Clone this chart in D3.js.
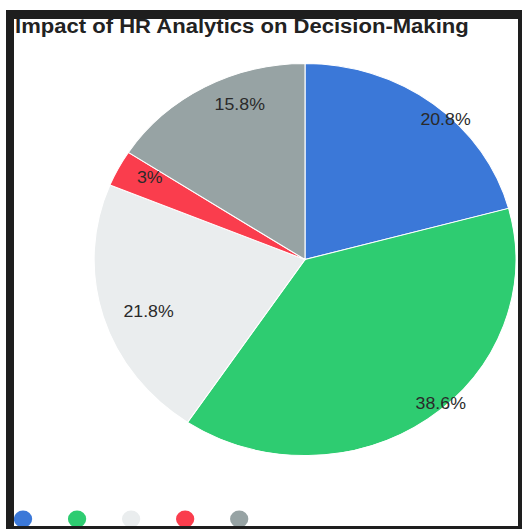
<!DOCTYPE html>
<html>
<head>
<meta charset="utf-8">
<script src="https://cdn.jsdelivr.net/npm/d3@7"></script>
<style>
  html, body { margin: 0; padding: 0; background: #fff; }
  svg { display: block; }
</style>
</head>
<body>
<svg id="chart" width="522" height="529"></svg>
<script>
// Slice data, in drawing order (clockwise from 12 o'clock)
const categories = ["Recruitment", "Performance", "Retention", "Compensation", "Training"];
const values = [20.8, 38.6, 21.8, 3, 15.8];
const valueLabels = ["20.8%", "38.6%", "21.8%", "3%", "15.8%"];
const colors = ["#3b78d8", "#2ecc71", "#eaedee", "#fa3d4d", "#97a3a4"];
const titleText = "Impact of HR Analytics on Decision-Making";

const W = 522, H = 529;
const svg = d3.select("#chart");

// dark frame around the card
svg.append("rect").attr("x", 6).attr("y", 10).attr("width", W - 6).attr("height", H - 10).attr("fill", "#1e1e1e");
svg.append("rect").attr("x", 14).attr("y", 19).attr("width", 504).attr("height", 507).attr("fill", "#fff");

svg.append("defs").append("clipPath").attr("id", "card")
  .append("rect").attr("x", 14).attr("y", 19).attr("width", 504).attr("height", 507);

// the card content is drawn slightly widened horizontally
const sx = 1.076;
const root = svg.append("g").attr("clip-path", "url(#card)")
  .append("g").attr("transform", `scale(${sx},1)`);

// title
root.append("text")
  .attr("x", 14)
  .attr("y", 33)
  .attr("font-family", "'Liberation Sans', Arial, sans-serif")
  .attr("font-weight", "bold")
  .attr("font-size", 20.5)
  .attr("fill", "#222")
  .text(titleText);

// pie
const R = 196;
const cx = 305 / sx, cy = 259.5;
const pie = d3.pie().sort(null).value(d => d.value);
const arcs = pie(categories.map((c, i) => ({ category: c, value: values[i], label: valueLabels[i], color: colors[i] })));
const arc = d3.arc().innerRadius(0).outerRadius(R);
const labelArc = d3.arc().innerRadius(R * 0.9).outerRadius(R * 0.9);

const pg = root.append("g").attr("transform", `translate(${cx},${cy})`);
pg.selectAll("path.slice")
  .data(arcs)
  .join("path")
  .attr("class", "slice")
  .attr("d", arc)
  .attr("fill", d => d.data.color)
  .attr("stroke", "#fff")
  .attr("stroke-width", 1);

pg.selectAll("text.val")
  .data(arcs)
  .join("text")
  .attr("class", "val")
  .attr("transform", d => `translate(${labelArc.centroid(d)})`)
  .attr("text-anchor", "start")
  .attr("dominant-baseline", "central")
  .attr("font-family", "'Liberation Sans', Arial, sans-serif")
  .attr("font-size", 16.5)
  .attr("fill", "#2a2a2a")
  .text(d => d.data.label);

// legend: colour dots along the bottom edge
const legendX = d3.scalePoint().domain(categories).range([21.4, 222.3]);
root.append("g").selectAll("circle")
  .data(categories)
  .join("circle")
  .attr("cx", d => legendX(d))
  .attr("cy", 519)
  .attr("r", 8.5)
  .attr("fill", (d, i) => colors[i]);
</script>
</body>
</html>
